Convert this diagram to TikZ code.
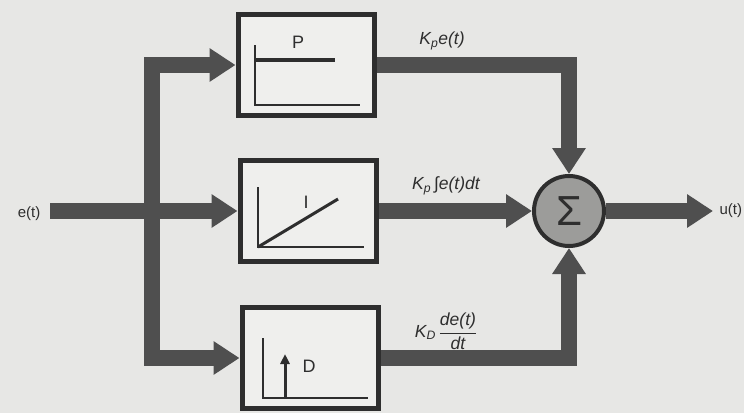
\documentclass[tikz,border=0pt]{standalone}
\usepackage{fontspec}
\setmainfont{Liberation Sans}
\usetikzlibrary{arrows.meta}
\definecolor{bg}{HTML}{E7E7E5}
\definecolor{boxfill}{HTML}{EFEFED}
\definecolor{ink}{HTML}{2E2E2E}
\definecolor{flowc}{HTML}{4F4F4F}
\definecolor{sumfill}{HTML}{9C9C9A}
\tikzset{
  blk/.style={draw=ink, line width=5pt, fill=boxfill, minimum width=136pt, minimum height=101pt, inner sep=0pt},
  flow/.style={draw=flowc, line width=16pt, line join=miter, -{Triangle[width=32pt,length=26pt]}},
  axis/.style={draw=ink, line width=1.8pt},
  lbl/.style={font=\fontsize{17.5}{20}\selectfont\itshape, text=ink},
  sig/.style={font=\fontsize{15}{17}\selectfont, text=ink},
  inlbl/.style={font=\fontsize{18}{20}\selectfont, text=ink}
}
\begin{document}
\begin{tikzpicture}[x=1pt,y=-1pt]
\fill[bg] (0,0) rectangle (744,413);
\useasboundingbox (0,0) rectangle (744,413);

% blocks
\node[blk] (P) at (306,65) {};
\node[blk] (I) at (308,211) {};
\node[blk] (D) at (310,358) {};
\node[circle, draw=ink, line width=4pt, fill=sumfill, minimum size=70pt, inner sep=0pt,
      font=\fontsize{42}{42}\selectfont, text=ink] (S) at (569,211) {Σ};

% input signal
\node[sig] (e) at (29,214) {e(t)};
\coordinate (in) at (50,211);
\coordinate (j) at (152,211);
\coordinate (out) at (713,211);
\node[sig, anchor=west] (u) at (716,211) {u(t)};

% branches
\draw[flow] (j) |- (P.west);
\draw[flow] (j) |- (D.west);
\draw[flow] (in) -- (I.west);

% outputs
\draw[flow] (P.east) -| (S.north);
\draw[flow] (I.east) -- (S.west);
\draw[flow] (D.east) -| (S.south);
\draw[flow] (S.east) -- (out);

% P graph
\draw[axis] (255,45) -- (255,105) -- (360,105);
\draw[ink, line width=3.5pt] (255,60) -- (335,60);
\node[inlbl] (pl) at (298,42) {P};

% I graph
\draw[axis] (258,187) -- (258,247) -- (364,247);
\draw[ink, line width=3pt] (258,247) -- (338,199);
\node[inlbl] (il) at (306,202) {I};

% D graph
\draw[axis] (263,338) -- (263,398) -- (368,398);
\draw[ink, line width=3pt, -{Triangle[width=9pt,length=10pt]}] (285,398) -- (285,354);
\node[inlbl] (dl) at (309,366) {D};

% gain labels
\node[lbl] (kp) at (442,41) {K\textsubscript{p}e(t)};
\node[lbl] (ki) at (446,186) {K\textsubscript{p}\,{\upshape∫}e(t)dt};
\node[lbl] (kd) at (446,331) {K\textsubscript{D}\,$\displaystyle\frac{\textit{de(t)}}{\textit{dt}}$};
\end{tikzpicture}
\end{document}
